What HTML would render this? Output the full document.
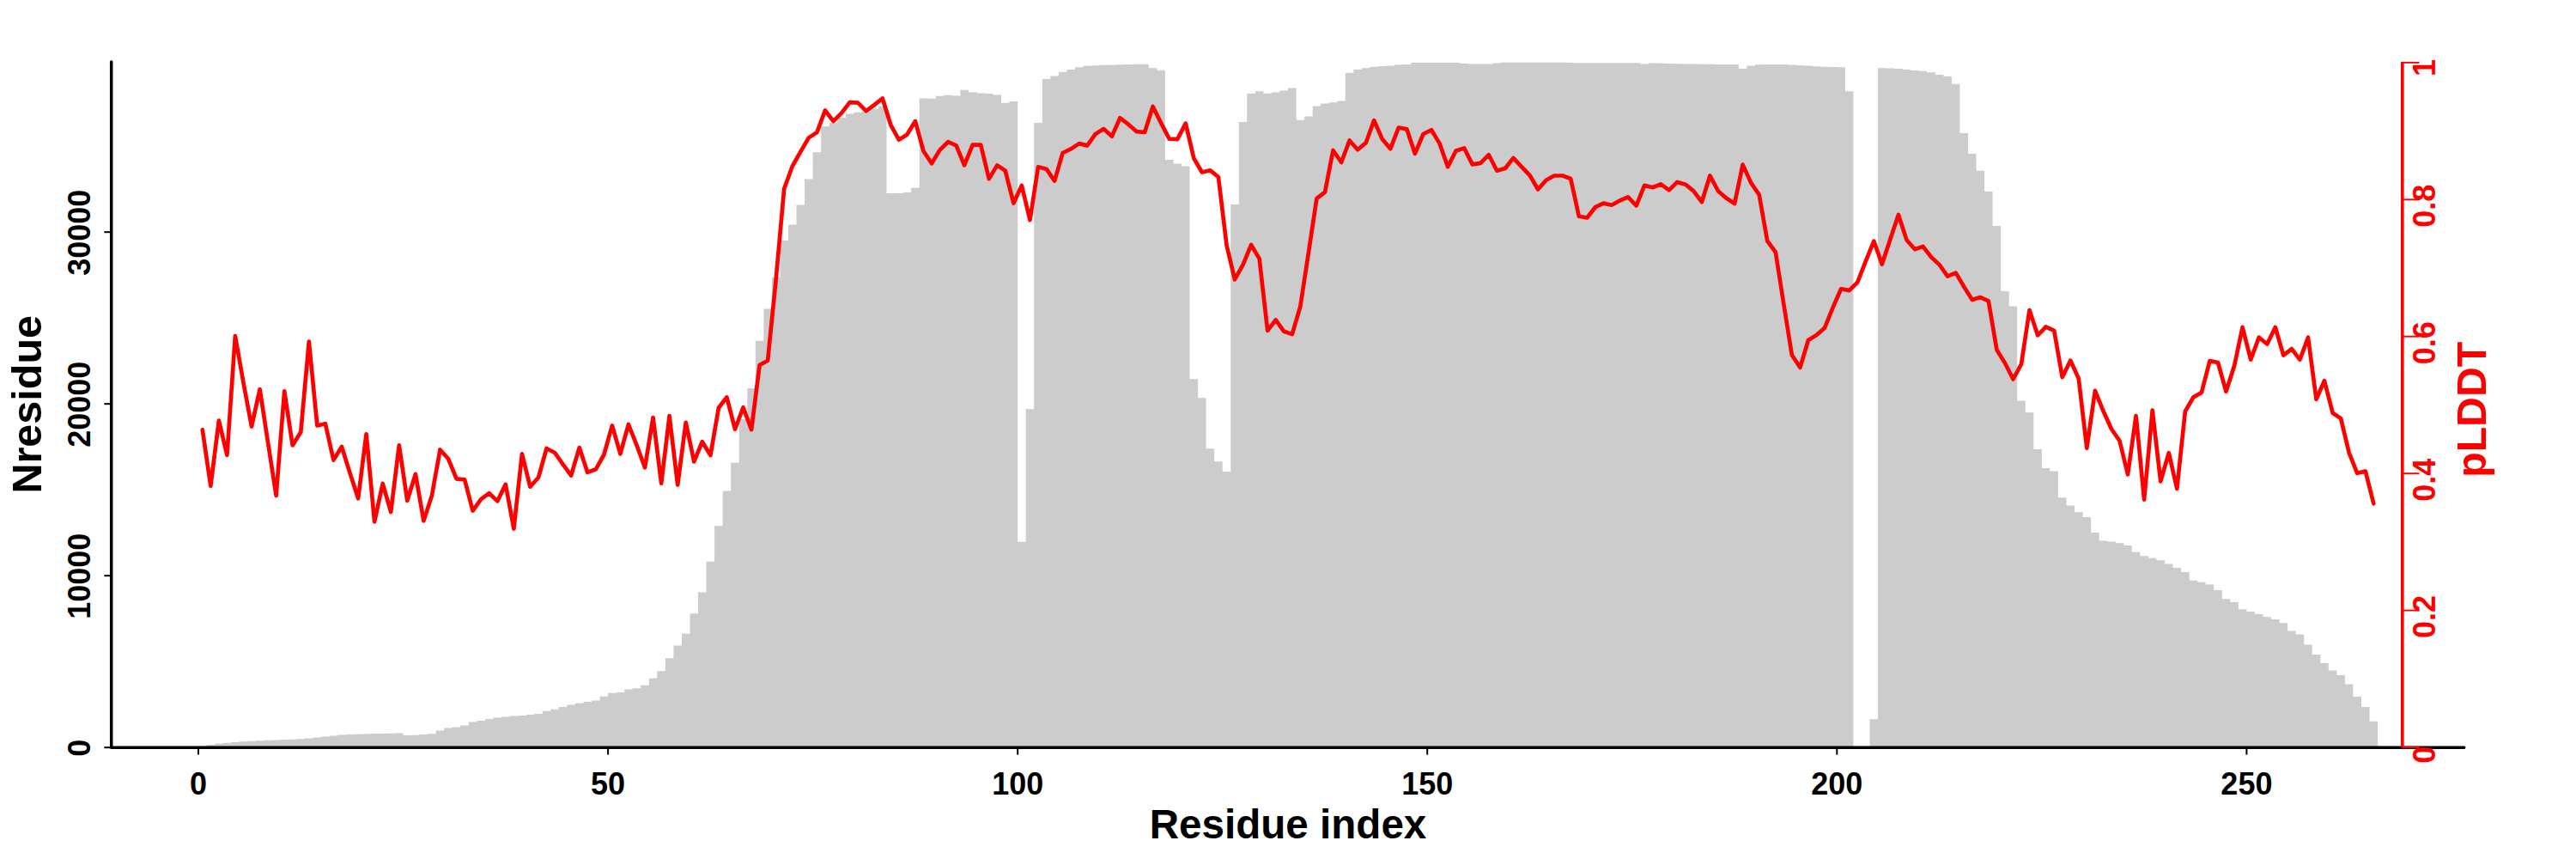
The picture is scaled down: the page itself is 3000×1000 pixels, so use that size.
<!DOCTYPE html>
<html lang="en">
<head>
<meta charset="utf-8">
<title>Nresidue and pLDDT per residue index</title>
<style>
html,body{margin:0;padding:0;background:#fff;}
body{width:3000px;height:1000px;overflow:hidden;}
svg{display:block;}
text{font-family:"Liberation Sans",Arial,Helvetica,sans-serif;font-weight:bold;}
.ax{font-size:36px;}
.lab{font-size:47.6px;}
</style>
</head>
<body>
<svg width="3000" height="1000" viewBox="0 0 3000 1000">
<rect width="3000" height="1000" fill="#fff"/>
<path d="M231 870L231 868.8 L240.5 868.8L240.5 867.1 L250.1 867.1L250.1 865.8 L259.6 865.8L259.6 864.8 L269.2 864.8L269.2 863.9 L278.7 863.9L278.7 863.2 L288.2 863.2L288.2 862.7 L297.8 862.7L297.8 862.2 L307.3 862.2L307.3 861.8 L316.9 861.8L316.9 861.4 L326.4 861.4L326.4 861 L336 861L336 860.7 L345.5 860.7L345.5 860.2 L355 860.2L355 859.4 L364.6 859.4L364.6 858.4 L374.1 858.4L374.1 857.4 L383.7 857.4L383.7 856.4 L393.2 856.4L393.2 855.6 L402.7 855.6L402.7 855.1 L412.3 855.1L412.3 854.7 L421.8 854.7L421.8 854.4 L431.4 854.4L431.4 854.1 L440.9 854.1L440.9 853.9 L450.5 853.9L450.5 853.7 L460 853.7L460 853.5 L469.5 853.5L469.5 856.1 L479.1 856.1L479.1 855.8 L488.6 855.8L488.6 855.1 L498.2 855.1L498.2 854.2 L507.7 854.2L507.7 850.5 L517.2 850.5L517.2 847.6 L526.8 847.6L526.8 846.6 L536.3 846.6L536.3 844.4 L545.9 844.4L545.9 840.4 L555.4 840.4L555.4 839.1 L565 839.1L565 836.9 L574.5 836.9L574.5 835.6 L584 835.6L584 834.4 L593.6 834.4L593.6 833.4 L603.1 833.4L603.1 833 L612.7 833L612.7 832.1 L622.2 832.1L622.2 830.9 L631.7 830.9L631.7 827.8 L641.3 827.8L641.3 825.7 L650.8 825.7L650.8 822.9 L660.4 822.9L660.4 820.4 L669.9 820.4L669.9 818.7 L679.5 818.7L679.5 817 L689 817L689 815.6 L698.5 815.6L698.5 810.7 L708.1 810.7L708.1 806.8 L717.6 806.8L717.6 806 L727.2 806L727.2 802.5 L736.7 802.5L736.7 801.2 L746.2 801.2L746.2 797.7 L755.8 797.7L755.8 789.7 L765.3 789.7L765.3 781.2 L774.9 781.2L774.9 766.3 L784.4 766.3L784.4 751.5 L794 751.5L794 737.7 L803.5 737.7L803.5 714.3 L813 714.3L813 689.6 L822.6 689.6L822.6 653.7 L832.1 653.7L832.1 612.3 L841.7 612.3L841.7 571.5 L851.2 571.5L851.2 538.7 L860.7 538.7L860.7 488 L870.3 488L870.3 452 L879.8 452L879.8 396.8 L889.4 396.8L889.4 359.6 L898.9 359.6L898.9 322.8 L908.5 322.8L908.5 280.1 L918 280.1L918 261.5 L927.5 261.5L927.5 238.6 L937.1 238.6L937.1 208.4 L946.6 208.4L946.6 177.2 L956.2 177.2L956.2 147.2 L965.7 147.2L965.7 143.2 L975.2 143.2L975.2 137 L984.8 137L984.8 132.6 L994.3 132.6L994.3 130.8 L1003.9 130.8L1003.9 129.5 L1013.4 129.5L1013.4 126.6 L1023 126.6L1023 123.7 L1032.5 123.7L1032.5 225 L1042 225L1042 225 L1051.6 225L1051.6 224 L1061.1 224L1061.1 218.7 L1070.7 218.7L1070.7 114.5 L1080.2 114.5L1080.2 114.8 L1089.7 114.8L1089.7 111.8 L1099.3 111.8L1099.3 110.7 L1108.8 110.7L1108.8 111.5 L1118.4 111.5L1118.4 104.8 L1127.9 104.8L1127.9 107.2 L1137.5 107.2L1137.5 108.5 L1147 108.5L1147 109.1 L1156.5 109.1L1156.5 110.6 L1166.1 110.6L1166.1 119.7 L1175.6 119.7L1175.6 118 L1185.2 118L1185.2 630.8 L1194.7 630.8L1194.7 476.2 L1204.2 476.2L1204.2 143.1 L1213.8 143.1L1213.8 92.1 L1223.3 92.1L1223.3 88.6 L1232.9 88.6L1232.9 83.8 L1242.4 83.8L1242.4 81 L1252 81L1252 78.2 L1261.5 78.2L1261.5 76.8 L1271 76.8L1271 76.2 L1280.6 76.2L1280.6 75.8 L1290.1 75.8L1290.1 75.5 L1299.7 75.5L1299.7 75.2 L1309.2 75.2L1309.2 75 L1318.7 75L1318.7 74.8 L1328.3 74.8L1328.3 74.7 L1337.8 74.7L1337.8 79.2 L1347.4 79.2L1347.4 81.7 L1356.9 81.7L1356.9 186 L1366.5 186L1366.5 190.4 L1376 190.4L1376 193.6 L1385.5 193.6L1385.5 441.3 L1395.1 441.3L1395.1 463.3 L1404.6 463.3L1404.6 522.3 L1414.2 522.3L1414.2 537.3 L1423.7 537.3L1423.7 548.9 L1433.2 548.9L1433.2 238 L1442.8 238L1442.8 142 L1452.3 142L1452.3 108.9 L1461.9 108.9L1461.9 106.2 L1471.4 106.2L1471.4 108.8 L1480.9 108.8L1480.9 107.5 L1490.5 107.5L1490.5 105.6 L1500 105.6L1500 102.5 L1509.6 102.5L1509.6 139.7 L1519.1 139.7L1519.1 135.5 L1528.7 135.5L1528.7 123.4 L1538.2 123.4L1538.2 120.6 L1547.7 120.6L1547.7 119.3 L1557.3 119.3L1557.3 117.4 L1566.8 117.4L1566.8 84.8 L1576.4 84.8L1576.4 80.9 L1585.9 80.9L1585.9 79.2 L1595.4 79.2L1595.4 77.7 L1605 77.7L1605 77.1 L1614.5 77.1L1614.5 76.4 L1624.1 76.4L1624.1 75.3 L1633.6 75.3L1633.6 74.9 L1643.2 74.9L1643.2 73 L1652.7 73L1652.7 73 L1662.2 73L1662.2 73 L1671.8 73L1671.8 73 L1681.3 73L1681.3 73 L1690.9 73L1690.9 73 L1700.4 73L1700.4 74 L1709.9 74L1709.9 74.5 L1719.5 74.5L1719.5 74.5 L1729 74.5L1729 74.5 L1738.6 74.5L1738.6 73.5 L1748.1 73.5L1748.1 72.8 L1757.7 72.8L1757.7 72.8 L1767.2 72.8L1767.2 72.8 L1776.7 72.8L1776.7 72.8 L1786.3 72.8L1786.3 72.8 L1795.8 72.8L1795.8 72.8 L1805.4 72.8L1805.4 72.8 L1814.9 72.8L1814.9 72.8 L1824.4 72.8L1824.4 73 L1834 73L1834 73.2 L1843.5 73.2L1843.5 73.2 L1853.1 73.2L1853.1 73.2 L1862.6 73.2L1862.6 73.2 L1872.2 73.2L1872.2 73.2 L1881.7 73.2L1881.7 73.2 L1891.2 73.2L1891.2 73.2 L1900.8 73.2L1900.8 73.2 L1910.3 73.2L1910.3 74.6 L1919.9 74.6L1919.9 73.6 L1929.4 73.6L1929.4 73.8 L1938.9 73.8L1938.9 74 L1948.5 74L1948.5 74.2 L1958 74.2L1958 74.4 L1967.6 74.4L1967.6 74.6 L1977.1 74.6L1977.1 74.7 L1986.7 74.7L1986.7 74.8 L1996.2 74.8L1996.2 74.9 L2005.7 74.9L2005.7 74.9 L2015.3 74.9L2015.3 74.9 L2024.8 74.9L2024.8 80.1 L2034.4 80.1L2034.4 76.4 L2043.9 76.4L2043.9 75.3 L2053.4 75.3L2053.4 74.9 L2063 74.9L2063 74.9 L2072.5 74.9L2072.5 75 L2082.1 75L2082.1 75.4 L2091.6 75.4L2091.6 76 L2101.2 76L2101.2 76.6 L2110.7 76.6L2110.7 77.2 L2120.2 77.2L2120.2 77.8 L2129.8 77.8L2129.8 78.1 L2139.3 78.1L2139.3 78.3 L2148.9 78.3L2148.9 106.2 L2158.4 106.2L2158.4 870 L2167.9 870L2167.9 870 L2177.5 870L2177.5 837.2 L2187 837.2L2187 79.2 L2196.6 79.2L2196.6 79.6 L2206.1 79.6L2206.1 80.1 L2215.7 80.1L2215.7 80.9 L2225.2 80.9L2225.2 82 L2234.7 82L2234.7 82.7 L2244.3 82.7L2244.3 84.2 L2253.8 84.2L2253.8 87 L2263.4 87L2263.4 88.9 L2272.9 88.9L2272.9 97.8 L2282.4 97.8L2282.4 155 L2292 155L2292 179.1 L2301.5 179.1L2301.5 198.7 L2311.1 198.7L2311.1 223.1 L2320.6 223.1L2320.6 262.9 L2330.2 262.9L2330.2 339.1 L2339.7 339.1L2339.7 356.6 L2349.2 356.6L2349.2 466.4 L2358.8 466.4L2358.8 480.3 L2368.3 480.3L2368.3 522.9 L2377.9 522.9L2377.9 545 L2387.4 545L2387.4 548.4 L2396.9 548.4L2396.9 579.2 L2406.5 579.2L2406.5 588.6 L2416 588.6L2416 596.3 L2425.6 596.3L2425.6 601.9 L2435.1 601.9L2435.1 620 L2444.7 620L2444.7 629.5 L2454.2 629.5L2454.2 630.5 L2463.7 630.5L2463.7 632.3 L2473.3 632.3L2473.3 635.1 L2482.8 635.1L2482.8 642.8 L2492.4 642.8L2492.4 647.3 L2501.9 647.3L2501.9 649.7 L2511.4 649.7L2511.4 652.2 L2521 652.2L2521 656.5 L2530.5 656.5L2530.5 661.1 L2540.1 661.1L2540.1 666 L2549.6 666L2549.6 675.8 L2559.2 675.8L2559.2 677.7 L2568.7 677.7L2568.7 680.5 L2578.2 680.5L2578.2 686.9 L2587.8 686.9L2587.8 697.3 L2597.3 697.3L2597.3 700.9 L2606.9 700.9L2606.9 709.3 L2616.4 709.3L2616.4 712.1 L2625.9 712.1L2625.9 714.9 L2635.5 714.9L2635.5 718.2 L2645 718.2L2645 721 L2654.6 721L2654.6 725.2 L2664.1 725.2L2664.1 734.4 L2673.6 734.4L2673.6 738.4 L2683.2 738.4L2683.2 750.6 L2692.7 750.6L2692.7 762.1 L2702.3 762.1L2702.3 771.9 L2711.8 771.9L2711.8 780.5 L2721.4 780.5L2721.4 786.1 L2730.9 786.1L2730.9 796.5 L2740.4 796.5L2740.4 811 L2750 811L2750 823 L2759.5 823L2759.5 839.8 L2769.1 839.8L2769.1 870Z" fill="#ccc"/>
<polyline points="235.8,500.4 245.3,565.6 254.9,489.7 264.4,529.8 273.9,391.2 283.5,445.6 293,496.5 302.6,453.1 312.1,515.4 321.6,577 331.2,455.4 340.7,518.4 350.3,503 359.8,397.7 369.4,495.5 378.9,493.2 388.4,535.6 398,520 407.5,550.6 417.1,580.3 426.6,505.3 436.1,607.4 445.7,563 455.2,596 464.8,518.4 474.3,582.9 483.9,552 493.4,606.4 502.9,577 512.5,523.5 522,534 531.6,557.4 541.1,558.3 550.6,594.6 560.2,581.2 569.7,574.2 579.3,583.4 588.8,563.9 598.4,615.5 607.9,528.4 617.4,566.6 627,556 636.5,522 646.1,527 655.6,540.7 665.1,553.5 674.7,521.1 684.2,549.9 693.8,546.3 703.3,529.5 712.9,495.4 722.4,528.4 731.9,494 741.5,518.3 751,544.3 760.6,486 770.1,562.7 779.6,484.2 789.2,564.4 798.7,491.8 808.3,537.4 817.8,514.2 827.4,530 836.9,474.8 846.4,462.4 856,499.7 865.5,474.3 875.1,500.1 884.6,425 894.1,419.8 903.7,325 913.2,219.7 922.8,193.5 932.3,176.7 941.8,160.4 951.4,154.1 960.9,128.5 970.5,141.1 980,131.7 989.6,119.1 999.1,119.7 1008.6,129.2 1018.2,122.2 1027.7,114.5 1037.3,145.3 1046.8,162.7 1056.3,156.8 1065.9,141.1 1075.4,175.7 1085,190.3 1094.5,174.6 1104.1,165.2 1113.6,169.4 1123.1,192.4 1132.7,168.7 1142.2,168.7 1151.8,208.1 1161.3,192.4 1170.8,198.8 1180.4,236.6 1189.9,216 1199.5,256.1 1209,194.3 1218.6,196.7 1228.1,210.6 1237.6,178 1247.2,173.4 1256.7,167.1 1266.3,169.4 1275.8,155.9 1285.3,150.1 1294.9,158.7 1304.4,137.3 1314,144.7 1323.5,153.1 1333.1,154 1342.6,124 1352.1,143.1 1361.7,161.7 1371.2,162.2 1380.8,143.6 1390.3,184.3 1399.8,200.5 1409.4,198.3 1418.9,206 1428.5,285.4 1438,325.4 1447.6,308.1 1457.1,285 1466.6,301.1 1476.2,384.9 1485.7,372.4 1495.3,385.8 1504.8,389.1 1514.3,357 1523.9,294.1 1533.4,231.2 1543,223.7 1552.5,175 1562.1,189 1571.6,163.5 1581.1,174.3 1590.7,166.2 1600.2,140.1 1609.8,162 1619.3,173.2 1628.8,148.5 1638.4,150.4 1647.9,178.9 1657.5,156 1667,151.3 1676.6,167.1 1686.1,194.2 1695.6,175.5 1705.2,172.4 1714.7,191.4 1724.3,189.9 1733.8,180.2 1743.3,198.8 1752.9,196 1762.4,183.9 1772,194.2 1781.5,204 1791.1,220.5 1800.6,209.8 1810.1,204.5 1819.7,204.5 1829.2,208 1838.8,251.7 1848.3,253.5 1857.8,241.2 1867.4,236.6 1876.9,238.7 1886.5,233.5 1896,229.4 1905.6,239.4 1915.1,215.8 1924.6,218.2 1934.2,214.4 1943.7,221.4 1953.3,211.9 1962.8,214.7 1972.3,222.4 1981.9,235.2 1991.4,204.5 2001,222.4 2010.5,230.8 2020.1,237 2029.6,191.6 2039.1,212.6 2048.7,226.6 2058.2,280.5 2067.8,293.5 2077.3,354 2086.8,413.2 2096.4,427.8 2105.9,396 2115.5,390.1 2125,381.7 2134.5,358.1 2144.1,336.3 2153.6,338.1 2163.2,328.6 2172.7,304.3 2182.3,280.7 2191.8,307.6 2201.3,278.7 2210.9,250 2220.4,279.2 2230,290.2 2239.5,286.9 2249,299.2 2258.6,308.1 2268.1,321.7 2277.7,317.6 2287.2,333.8 2296.8,349.1 2306.3,346.1 2315.8,350.3 2325.4,407.2 2334.9,422.5 2344.5,441.5 2354,423.9 2363.5,361 2373.1,390.3 2382.6,380.5 2392.2,384.8 2401.7,439.2 2411.3,419.6 2420.8,440.8 2430.3,521.7 2439.9,454.8 2449.4,478.3 2459,499.5 2468.5,513.2 2478,552.3 2487.6,484.2 2497.1,581.6 2506.7,477.7 2516.2,560.4 2525.8,527.2 2535.3,569 2544.8,479 2554.4,462.4 2563.9,457 2573.5,420.1 2583,422 2592.5,455.8 2602.1,425.7 2611.6,381 2621.2,418.7 2630.7,392.7 2640.3,400.5 2649.8,381 2659.3,413.6 2668.9,406.1 2678.4,418.7 2688,392.7 2697.5,464.8 2707,443.3 2716.6,480.7 2726.1,487.1 2735.7,527.1 2745.2,550.8 2754.8,548.6 2764.3,586.3" fill="none" stroke="#f00" stroke-width="4.7" stroke-linejoin="round" stroke-linecap="round"/>
<polyline points="129.7,72 129.7,870.2 2869.7,870.2" fill="none" stroke="#000" stroke-width="3.5" stroke-linejoin="round" stroke-linecap="round"/>
<line x1="2797.8" y1="72" x2="2797.8" y2="870.2" stroke="#f00" stroke-width="3.6"/>
<line x1="231" y1="870" x2="231" y2="878.6" stroke="#000" stroke-width="2.0"/>
<text x="231" y="924.6" text-anchor="middle" class="ax">0</text>
<line x1="708.1" y1="870" x2="708.1" y2="878.6" stroke="#000" stroke-width="2.0"/>
<text x="708.1" y="924.6" text-anchor="middle" class="ax">50</text>
<line x1="1185.2" y1="870" x2="1185.2" y2="878.6" stroke="#000" stroke-width="2.0"/>
<text x="1185.2" y="924.6" text-anchor="middle" class="ax">100</text>
<line x1="1662.2" y1="870" x2="1662.2" y2="878.6" stroke="#000" stroke-width="2.0"/>
<text x="1662.2" y="924.6" text-anchor="middle" class="ax">150</text>
<line x1="2139.3" y1="870" x2="2139.3" y2="878.6" stroke="#000" stroke-width="2.0"/>
<text x="2139.3" y="924.6" text-anchor="middle" class="ax">200</text>
<line x1="2616.4" y1="870" x2="2616.4" y2="878.6" stroke="#000" stroke-width="2.0"/>
<text x="2616.4" y="924.6" text-anchor="middle" class="ax">250</text>
<line x1="121.3" y1="870.2" x2="130" y2="870.2" stroke="#000" stroke-width="2.0"/>
<text transform="translate(105.2 870.8) rotate(-90)" text-anchor="middle" class="ax">0</text>
<line x1="121.3" y1="670.2" x2="130" y2="670.2" stroke="#000" stroke-width="2.0"/>
<text transform="translate(105.2 670.8) rotate(-90)" text-anchor="middle" class="ax">10000</text>
<line x1="121.3" y1="470.2" x2="130" y2="470.2" stroke="#000" stroke-width="2.0"/>
<text transform="translate(105.2 470.8) rotate(-90)" text-anchor="middle" class="ax">20000</text>
<line x1="121.3" y1="270.2" x2="130" y2="270.2" stroke="#000" stroke-width="2.0"/>
<text transform="translate(105.2 270.8) rotate(-90)" text-anchor="middle" class="ax">30000</text>
<line x1="2798" y1="870" x2="2817.5" y2="870" stroke="#f00" stroke-width="1.9"/>
<text transform="translate(2836 878.7) rotate(-90)" text-anchor="middle" class="ax" fill="#f00">0</text>
<line x1="2798" y1="710.6" x2="2817.5" y2="710.6" stroke="#f00" stroke-width="1.9"/>
<text transform="translate(2836 718.1) rotate(-90)" text-anchor="middle" class="ax" fill="#f00">0.2</text>
<line x1="2798" y1="551.2" x2="2817.5" y2="551.2" stroke="#f00" stroke-width="1.9"/>
<text transform="translate(2836 558.7) rotate(-90)" text-anchor="middle" class="ax" fill="#f00">0.4</text>
<line x1="2798" y1="391.7" x2="2817.5" y2="391.7" stroke="#f00" stroke-width="1.9"/>
<text transform="translate(2836 399.2) rotate(-90)" text-anchor="middle" class="ax" fill="#f00">0.6</text>
<line x1="2798" y1="232.3" x2="2817.5" y2="232.3" stroke="#f00" stroke-width="1.9"/>
<text transform="translate(2836 239.8) rotate(-90)" text-anchor="middle" class="ax" fill="#f00">0.8</text>
<line x1="2798" y1="72.9" x2="2817.5" y2="72.9" stroke="#f00" stroke-width="1.9"/>
<text transform="translate(2836 79.1) rotate(-90)" text-anchor="middle" class="ax" fill="#f00">1</text>
<text x="1500" y="975.9" text-anchor="middle" class="lab">Residue index</text>
<text transform="translate(48.3 470.8) rotate(-90)" text-anchor="middle" class="lab" style="font-size:48.5px">Nresidue</text>
<text transform="translate(2894.8 476.8) rotate(-90)" text-anchor="middle" class="lab" fill="#f00" style="font-size:48.2px">pLDDT</text>
</svg>
</body>
</html>
